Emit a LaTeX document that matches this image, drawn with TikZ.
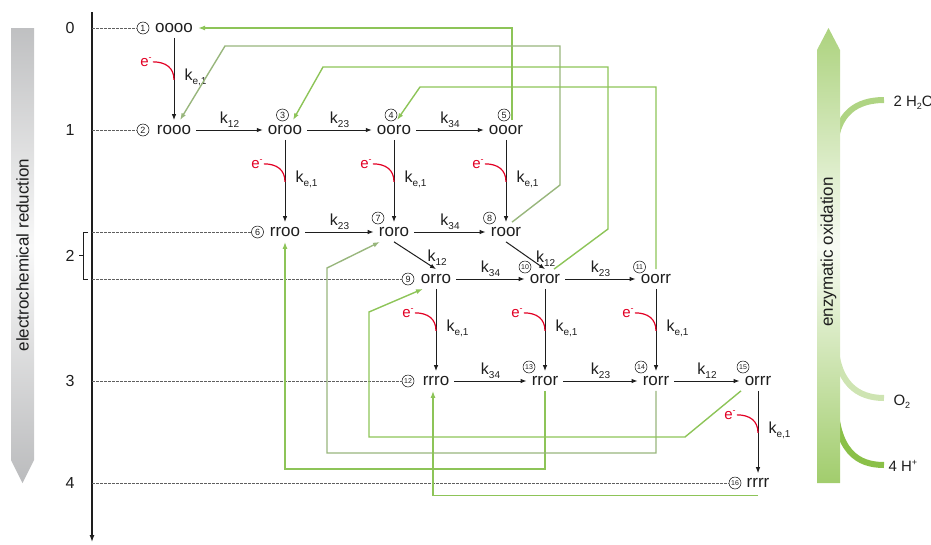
\documentclass[tikz,border=0pt]{standalone}
\usepackage{fontspec}
\setmainfont{Liberation Sans}
\usetikzlibrary{arrows.meta,calc}

\definecolor{LineGreen}{RGB}{141,196,88}
\definecolor{PathGreen}{RGB}{152,182,124}
\definecolor{BarGreen}{RGB}{138,192,72}
\definecolor{BarGray}{RGB}{170,171,173}
\definecolor{ERed}{RGB}{226,0,36}
\definecolor{LevelGray}{RGB}{95,95,95}
\definecolor{InkGray}{RGB}{30,30,30}

\pgfdeclareverticalshading{greenbar}{100bp}{color(0bp)=(BarGreen); color(18bp)=(BarGreen); color(51bp)=(BarGreen!6); color(86bp)=(BarGreen); color(100bp)=(BarGreen)}
\pgfdeclareverticalshading{graybar}{100bp}{color(0bp)=(BarGray); color(18bp)=(BarGray); color(51bp)=(BarGray!8); color(84bp)=(BarGray); color(100bp)=(BarGray)}

\newcommand{\fsz}[1]{\fontsize{#1}{#1}\selectfont}
\newcommand{\kk}[1]{k\raisebox{-0.5ex}{\fsz{10}#1}}
\newcommand{\lowsub}[1]{\raisebox{-0.45ex}{\fsz{9}#1}}
\newcommand{\highsup}[1]{\raisebox{0.75ex}{\fsz{9}#1}}

\tikzset{
  species/.style={font=\fsz{17}, inner sep=5pt},
  num/.style={circle, draw, line width=0.5pt, inner sep=0pt, minimum size=12pt, font=\fsz{9}},
  numtwo/.style={num, font=\fsz{7}},
  react/.style={-{Latex[length=6pt,width=4.5pt]}, line width=1pt, InkGray},
  oxpath/.style={-{Latex[length=7pt,width=5pt]}, LineGreen, line width=1.4pt},
  ratelabel/.style={font=\fsz{16}, inner sep=2pt},
  enode/.style={ERed, font=\fsz{15}, inner sep=1pt},
  earc/.style={ERed, line width=1.2pt},
  levelline/.style={LevelGray, dash pattern=on 2.5pt off 1.5pt, line width=0.6pt},
}

\begin{document}
\begin{tikzpicture}[x=1pt, y=-1pt, font=\fsz{16}, text=InkGray]
\useasboundingbox (0,0) rectangle (931,544);

% -- gray bar, electrochemical reduction --
\shade[shading=graybar] (11,28) -- (34,28) -- (34,460) -- (22.5,483) -- (11,460) -- cycle;
\node[rotate=90, font=\fsz{17}] (redlabel) at (22.5,255) {electrochemical reduction};

% -- green bar, enzymatic oxidation --
\draw[line width=6pt, BarGreen!68] (835,152) .. controls (835,112) and (858,100) .. (884,100);
\draw[line width=6pt, BarGreen!42] (835,335) .. controls (835,384) and (858,398) .. (884,398);
\draw[line width=6pt, BarGreen] (835,395) .. controls (835,452) and (858,465) .. (884,465);
\shade[shading=greenbar] (817,483) -- (817,50) -- (828.5,28) -- (840,50) -- (840,483) -- cycle;
\node[rotate=90, font=\fsz{17}] (oxlabel) at (828.5,252) {enzymatic oxidation};
\node[anchor=base west, font=\fsz{15}] (water) at (890,106) {2 H\lowsub{2}O};
\node[anchor=base west, font=\fsz{15}] (oxygen) at (890,405) {O\lowsub{2}};
\node[anchor=base west, font=\fsz{15}] (proton) at (885,471) {4 H\highsup{+}};

% -- axis --
\coordinate (axtop) at (92,12);
\coordinate (axbot) at (92,542);
\draw[-{Latex[length=7pt,width=5pt]}, line width=1.3pt, InkGray] (axtop) -- (axbot);
\node (t0) at (70,28) {0};
\node (t1) at (70,130) {1};
\node (t2) at (70,255.5) {2};
\node (t3) at (70,381) {3};
\node (t4) at (70,483) {4};
\draw[line width=0.8pt, InkGray] (88,232) -- (83,232) -- (83,279) -- (88,279) (83,255.5) -- (79,255.5);

% -- species --
\node[species] (s1) at (174,28) {oooo};
\node[species] (s2) at (174,130) {rooo};
\node[species] (s3) at (285,130) {oroo};
\node[species] (s4) at (394,130) {ooro};
\node[species] (s5) at (506,130) {ooor};
\node[species] (s6) at (285,232) {rroo};
\node[species] (s7) at (394,232) {roro};
\node[species] (s8) at (506,232) {roor};
\node[species] (s9) at (436,279) {orro};
\node[species] (s10) at (545,279) {oror};
\node[species] (s11) at (656,279) {oorr};
\node[species] (s12) at (436,381) {rrro};
\node[species] (s13) at (545,381) {rror};
\node[species] (s14) at (656,381) {rorr};
\node[species] (s15) at (758,381) {orrr};
\node[species] (s16) at (758,483) {rrrr};

% -- circled numbers --
\node[num] (n1) at (143,28) {1};
\node[num] (n2) at (143,130) {2};
\node[num] (n3) at (282.5,115) {3};
\node[num] (n4) at (391,115) {4};
\node[num] (n5) at (504,115) {5};
\node[num] (n6) at (257.5,232) {6};
\node[num] (n7) at (378,218) {7};
\node[num] (n8) at (489.5,218) {8};
\node[num] (n9) at (408,279) {9};
\node[numtwo] (n10) at (525,267) {10};
\node[numtwo] (n11) at (639.5,267) {11};
\node[numtwo] (n12) at (408,381) {12};
\node[numtwo] (n13) at (529,367) {13};
\node[numtwo] (n14) at (641,367) {14};
\node[numtwo] (n15) at (743,367) {15};
\node[numtwo] (n16) at (735,483) {16};

% -- levels --
\draw[levelline] (axtop |- n1.west) -- (n1.west);
\draw[levelline] (axtop |- n2.west) -- (n2.west);
\draw[levelline] (axtop |- n6.west) -- (n6.west);
\draw[levelline] (axtop |- n9.west) -- (n9.west);
\draw[levelline] (axtop |- n12.west) -- (n12.west);
\draw[levelline] (axtop |- n16.west) -- (n16.west);

% -- intramolecular transfer --
\draw[react] (s2) -- node[ratelabel, above]{\kk{12}} (s3);
\draw[react] (s3) -- node[ratelabel, above]{\kk{23}} (s4);
\draw[react] (s4) -- node[ratelabel, above]{\kk{34}} (s5);
\draw[react] (s6) -- node[ratelabel, above]{\kk{23}} (s7);
\draw[react] (s7) -- node[ratelabel, above]{\kk{34}} (s8);
\draw[react] (s9) -- node[ratelabel, above]{\kk{34}} (s10);
\draw[react] (s10) -- node[ratelabel, above]{\kk{23}} (s11);
\draw[react] (s12) -- node[ratelabel, above]{\kk{34}} (s13);
\draw[react] (s13) -- node[ratelabel, above]{\kk{23}} (s14);
\draw[react] (s14) -- node[ratelabel, above]{\kk{12}} (s15);
\draw[react] (s7.south) -- node[ratelabel, right, xshift=10pt, yshift=-2pt]{\kk{12}} (s9.north);
\draw[react] (s8.south) -- node[ratelabel, right, xshift=8pt, yshift=-3pt]{\kk{12}} (s10.north);

% -- electrochemical reduction steps --
\draw[react] (s1) -- node[ratelabel, right, xshift=8pt, yshift=2pt]{\kk{e,1}} (s2);
\draw[react] (s3) -- node[ratelabel, right, xshift=8pt, yshift=2pt]{\kk{e,1}} (s6);
\draw[react] (s4) -- node[ratelabel, right, xshift=8pt, yshift=2pt]{\kk{e,1}} (s7);
\draw[react] (s5) -- node[ratelabel, right, xshift=8pt, yshift=2pt]{\kk{e,1}} (s8);
\draw[react] (s9) -- node[ratelabel, right, xshift=8pt, yshift=2pt]{\kk{e,1}} (s12);
\draw[react] (s10) -- node[ratelabel, right, xshift=8pt, yshift=2pt]{\kk{e,1}} (s13);
\draw[react] (s11) -- node[ratelabel, right, xshift=8pt, yshift=2pt]{\kk{e,1}} (s14);
\draw[react] (s15) -- node[ratelabel, right, xshift=8pt, yshift=2pt]{\kk{e,1}} (s16);

\node[enode] (e1) at ($(s1.south)+(-28,24)$) {e\highsup{-}};
\node[enode] (e2) at ($(s3.south)+(-28,24)$) {e\highsup{-}};
\node[enode] (e3) at ($(s4.south)+(-28,24)$) {e\highsup{-}};
\node[enode] (e4) at ($(s5.south)+(-28,24)$) {e\highsup{-}};
\node[enode] (e5) at ($(s9.south)+(-28,24)$) {e\highsup{-}};
\node[enode] (e6) at ($(s10.south)+(-28,24)$) {e\highsup{-}};
\node[enode] (e7) at ($(s11.south)+(-28,24)$) {e\highsup{-}};
\node[enode] (e8) at ($(s15.south)+(-28,24)$) {e\highsup{-}};
\draw[earc] (e1.east) .. controls +(13,0) and +(0,-12) .. ($(s1.south)+(0,42)$);
\draw[earc] (e2.east) .. controls +(13,0) and +(0,-12) .. ($(s3.south)+(0,42)$);
\draw[earc] (e3.east) .. controls +(13,0) and +(0,-12) .. ($(s4.south)+(0,42)$);
\draw[earc] (e4.east) .. controls +(13,0) and +(0,-12) .. ($(s5.south)+(0,42)$);
\draw[earc] (e5.east) .. controls +(13,0) and +(0,-12) .. ($(s9.south)+(0,42)$);
\draw[earc] (e6.east) .. controls +(13,0) and +(0,-12) .. ($(s10.south)+(0,42)$);
\draw[earc] (e7.east) .. controls +(13,0) and +(0,-12) .. ($(s11.south)+(0,42)$);
\draw[earc] (e8.east) .. controls +(13,0) and +(0,-12) .. ($(s15.south)+(0,42)$);

% -- enzymatic oxidation back to lower states --
\draw[oxpath] ([xshift=6pt]s5.north) |- (s1.east);
\draw[oxpath, PathGreen] ([xshift=6pt]s8.north) -- (560,185) |- (225,46) -- ([xshift=6pt]s2.north);
\draw[oxpath] ([xshift=9pt]s10.north) -- (608,229) |- (323,67) -- ([xshift=8pt]s3.north);
\draw[oxpath] (s11.north) |- (420,87) -- ([xshift=3pt]s4.north);
\draw[oxpath] (s13.south) -- (s13.south |- 0,469) -| (s6.south);
\draw[oxpath, PathGreen] (s14.south) -- (s14.south |- 0,453) -| (327,268) -- ([xshift=-14pt]s7.south);
\draw[oxpath] ([xshift=-17pt]s15.south) -- (685,437) -| (369,312) -- ([xshift=-13pt]s9.south);
\draw[oxpath] ([yshift=-3pt]s16.south) -| ([xshift=-3pt]s12.south);

\end{tikzpicture}
\end{document}
